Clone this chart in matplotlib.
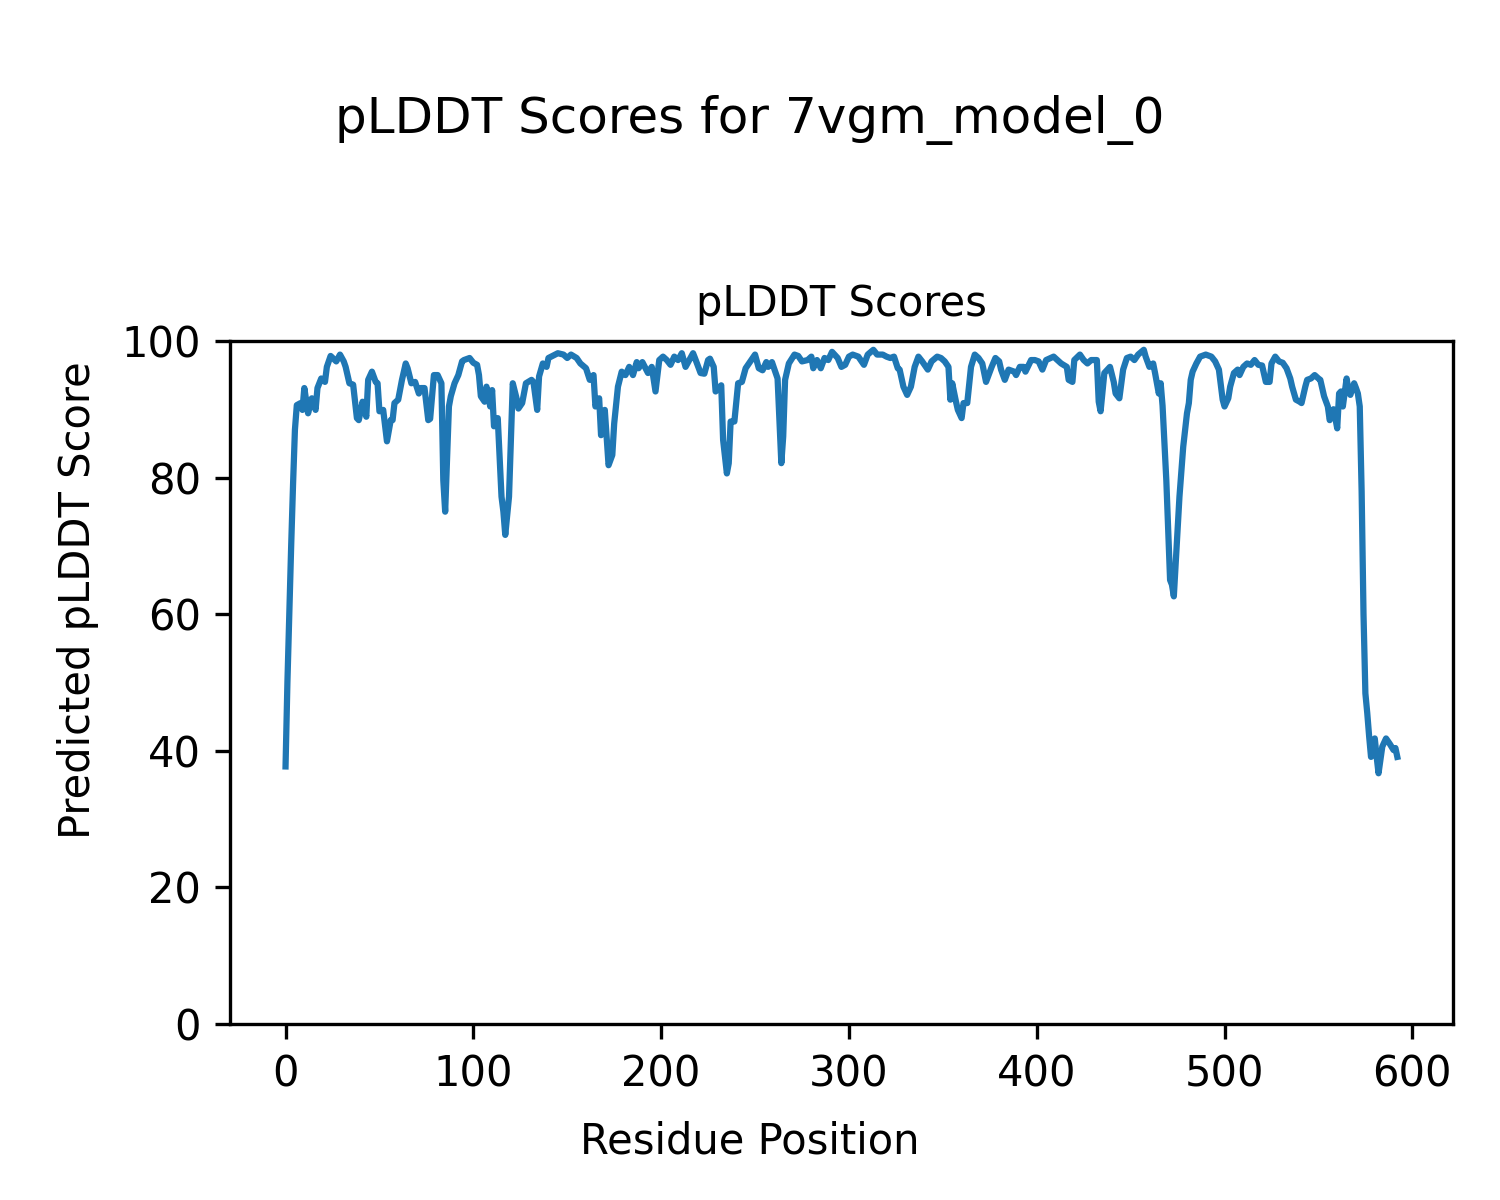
import matplotlib
matplotlib.use("Agg")
import matplotlib.pyplot as plt

# residue positions and pLDDT values
residues = [
    0, 1, 2, 3, 4, 5, 6, 8, 9, 10, 12, 14, 16, 17, 19, 21, 22, 24, 27, 29,
    31, 32, 34, 36, 38, 39, 40, 41, 43, 44, 46, 48, 49, 50, 52, 54, 56, 57, 58, 60,
    62, 64, 65, 67, 69, 71, 72, 74, 76, 77, 79, 81, 83, 84, 85, 87, 88, 90, 92, 94,
    95, 98, 100, 102, 103, 104, 106, 107, 109, 110, 111, 113, 115, 116, 117, 119, 121, 123, 124, 126,
    128, 131, 132, 134, 135, 137, 139, 140, 145, 148, 150, 152, 155, 157, 160, 162, 164, 165, 167, 168,
    170, 172, 174, 175, 177, 179, 181, 183, 185, 187, 188, 190, 193, 195, 197, 199, 201, 203, 205, 207,
    209, 211, 213, 215, 217, 218, 221, 223, 225, 226, 228, 229, 232, 233, 235, 236, 237, 239, 241, 243,
    245, 248, 250, 252, 254, 256, 257, 259, 262, 264, 265, 266, 268, 271, 273, 275, 278, 280, 281, 283,
    285, 287, 289, 291, 294, 296, 298, 300, 302, 305, 308, 310, 313, 315, 318, 320, 322, 324, 326, 327,
    329, 331, 333, 335, 337, 339, 341, 342, 344, 347, 349, 351, 353, 354, 355, 357, 358, 360, 361, 363,
    365, 367, 369, 371, 373, 376, 378, 380, 381, 383, 385, 388, 389, 391, 393, 394, 397, 399, 401, 403,
    405, 409, 411, 413, 416, 417, 419, 420, 423, 425, 427, 429, 432, 433, 434, 436, 439, 441, 442, 444,
    446, 448, 450, 452, 454, 457, 458, 460, 462, 463, 465, 466, 467, 469, 470, 471, 472, 473, 474, 476,
    478, 480, 481, 482, 483, 485, 487, 490, 493, 495, 497, 499, 500, 502, 503, 505, 507, 508, 510, 512,
    514, 516, 518, 520, 522, 524, 525, 527, 529, 531, 533, 535, 536, 538, 540, 541, 543, 544, 546, 548,
    550, 551, 553, 555, 556, 558, 559, 560, 561, 562, 563, 565, 566, 567, 569, 570, 571, 572, 573, 574,
    575, 576, 577, 578, 580, 581, 582, 584, 586, 588, 590, 591, 592,
]
plddt = [
    37.7, 50.0, 60.0, 70.0, 79.0, 87.0, 90.6, 90.9, 89.9, 93.1, 89.4, 91.6, 89.9, 93.1, 94.5, 94.0, 96.2, 97.8, 97.0, 98.0,
    97.0, 96.2, 93.8, 93.6, 88.7, 88.4, 89.7, 91.1, 88.9, 94.3, 95.5, 94.0, 93.8, 89.7, 89.9, 85.3, 88.4, 88.4, 90.9, 91.4,
    94.3, 96.7, 96.0, 93.8, 94.0, 92.3, 93.1, 93.1, 88.4, 88.6, 95.0, 95.0, 93.8, 79.6, 75.0, 90.4, 91.9, 93.8, 95.0, 97.0,
    97.2, 97.5, 96.8, 96.5, 95.0, 91.9, 91.1, 93.3, 90.4, 92.8, 87.5, 88.7, 77.2, 75.0, 71.6, 77.2, 93.8, 91.6, 90.1, 90.9,
    93.8, 94.3, 94.0, 89.9, 94.8, 96.7, 96.2, 97.5, 98.2, 98.0, 97.5, 98.0, 97.5, 96.7, 96.0, 94.3, 95.0, 90.4, 91.6, 86.2,
    89.9, 81.8, 83.3, 87.9, 93.3, 95.5, 95.0, 96.2, 95.0, 96.9, 96.0, 96.9, 95.3, 96.2, 92.6, 97.2, 97.7, 97.2, 96.5, 97.7,
    97.2, 98.2, 96.2, 97.2, 98.2, 97.5, 95.3, 95.2, 97.2, 97.4, 96.2, 92.6, 93.5, 85.5, 80.6, 82.1, 88.2, 88.2, 93.8, 94.0,
    96.0, 97.2, 98.0, 96.0, 95.7, 96.9, 96.2, 96.9, 94.5, 82.1, 86.0, 94.3, 96.7, 98.0, 97.8, 97.0, 97.2, 97.7, 96.0, 97.2,
    96.0, 97.5, 97.2, 98.4, 97.5, 96.2, 96.5, 97.7, 98.0, 97.7, 96.5, 98.0, 98.7, 98.0, 98.0, 97.7, 97.5, 97.7, 96.0, 95.8,
    93.3, 92.1, 93.3, 96.2, 97.7, 97.0, 96.2, 95.8, 97.0, 97.7, 97.5, 97.0, 96.2, 91.4, 93.8, 91.1, 89.9, 88.7, 90.9, 90.9,
    96.2, 98.0, 97.5, 96.7, 94.0, 96.2, 97.5, 97.0, 95.8, 94.3, 95.8, 95.5, 95.0, 96.2, 96.2, 95.5, 97.2, 97.2, 97.0, 95.8,
    97.2, 97.7, 97.2, 96.7, 96.2, 94.3, 94.0, 97.2, 98.0, 97.2, 96.7, 97.2, 97.2, 91.1, 89.7, 95.3, 96.2, 94.0, 92.3, 91.6,
    95.8, 97.5, 97.7, 97.2, 98.0, 98.7, 97.7, 96.2, 96.7, 95.3, 92.3, 93.8, 90.5, 79.6, 72.3, 65.0, 64.3, 62.6, 67.5, 77.2,
    84.5, 89.4, 90.9, 94.3, 95.5, 96.7, 97.7, 98.0, 97.7, 97.0, 95.8, 91.4, 90.4, 91.6, 93.3, 95.3, 95.8, 95.0, 96.2, 96.7,
    96.5, 97.2, 96.5, 96.4, 94.0, 94.0, 96.7, 97.7, 97.0, 96.8, 96.0, 94.5, 93.3, 91.4, 91.1, 90.9, 93.3, 94.3, 94.5, 95.0,
    94.5, 94.3, 91.9, 90.4, 88.4, 90.0, 88.7, 87.2, 92.3, 92.6, 90.4, 94.5, 92.8, 92.1, 93.8, 93.1, 92.3, 90.4, 78.0, 60.0,
    48.4, 45.5, 42.1, 39.1, 41.8, 39.1, 36.7, 40.6, 41.8, 41.0, 40.1, 40.4, 39.1,
]

model_name = "7vgm_model_0"

fig = plt.figure(figsize=(5, 4), dpi=300)
ax = fig.add_axes([0.1533, 0.1467, 0.8153, 0.5692])
ax.plot(residues, plddt, color="#1f77b4", linewidth=1.5)
ax.set_ylim(0, 100)
ax.set_title("pLDDT Scores", fontsize=10)

# shared labels sit at the figure centre, not the axes centre
fig.text(0.5, 0.039, "Residue Position", ha="center", va="baseline", fontsize=10)
fig.text(0.052, 0.5, "Predicted pLDDT Score", ha="center", va="center",
         rotation="vertical", fontsize=10)
fig.suptitle(f"pLDDT Scores for {model_name}", fontsize=12, y=0.889, va="baseline")

fig.savefig("out.png", dpi=300)
